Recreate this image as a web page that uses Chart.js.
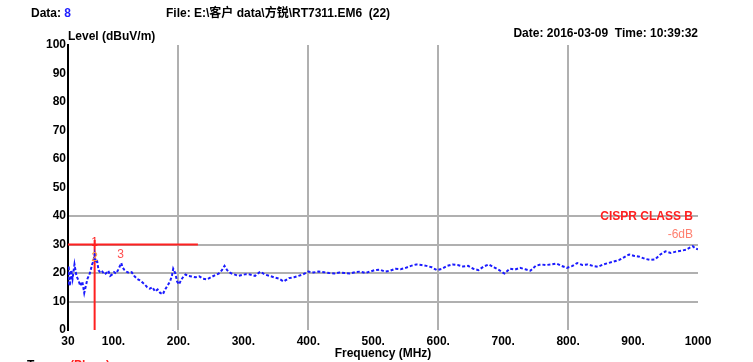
<!DOCTYPE html>
<html>
<head>
<meta charset="utf-8">
<script src="https://cdn.jsdelivr.net/npm/chart.js@4.4.1/dist/chart.umd.min.js"></script>
<style>
    body { margin: 0; background: #fff; }
    #emc { display: block; }
</style>
</head>
<body>
<canvas id="emc" width="753" height="362"></canvas>
<script>
const traceFreq = [30, 31, 32, 33, 35, 37, 40, 43, 46, 49, 52, 55, 58, 60, 63, 65, 67, 69, 71, 73,
    75, 77, 80, 83, 86, 89, 92, 95, 98, 101, 104, 107, 110, 112, 114, 117, 120, 124, 128, 132,
    136, 140, 144, 148, 152, 156, 160, 164, 168, 172, 176, 179, 183, 187, 190, 192, 195, 198, 201, 204,
    207, 211, 215, 220, 226, 232, 238, 244, 250, 256, 262, 267, 271, 275, 280, 286, 292, 298, 304, 310,
    318, 326, 333, 340, 347, 355, 362, 370, 378, 385, 392, 400, 408, 416, 424, 432, 440, 448, 456, 464,
    472, 480, 488, 495, 502, 510, 518, 526, 534, 542, 550, 558, 566, 574, 582, 590, 598, 606, 614, 622,
    630, 638, 646, 654, 662, 670, 678, 686, 694, 702, 710, 718, 726, 734, 742, 750, 758, 766, 774, 782,
    790, 798, 806, 814, 822, 830, 838, 846, 854, 862, 870, 878, 886, 894, 902, 910, 918, 926, 934, 942,
    950, 958, 966, 974, 982, 988, 992, 996, 1000];
const traceLevel = [16, 22.5, 17, 15.5, 21, 18, 23, 19, 17.5, 15.5, 17, 13, 16, 18, 19.5, 21, 23, 24, 26.5, 23.5,
    24, 21, 20, 20.5, 19.5, 20, 20.8, 19, 19.5, 20.3, 19.8, 21, 22.5, 23.5, 22, 21, 20.5, 20, 20.3, 19,
    18, 17.5, 16.8, 16, 15, 14.5, 15, 13.5, 14.2, 13, 12.5, 14, 15.5, 17, 19, 21.5, 20, 17, 16, 17.5,
    18.5, 19.5, 19, 18.8, 18.5, 18.8, 18, 17.8, 18.5, 19.2, 19.8, 21, 22.5, 21, 20, 19.5, 19, 19.3, 19.6, 19.5,
    19, 20.5, 19.5, 19, 18.5, 18, 17, 18.2, 18.5, 19, 19.5, 20.5, 20.2, 20.5, 20.3, 20, 19.8, 20.2, 20, 19.8,
    20.3, 20.5, 20, 20.5, 21, 21.2, 20.5, 20.8, 21.5, 21.3, 21.8, 22.5, 23, 22.8, 22.5, 22, 21, 21.5, 22.5, 23,
    22.8, 22.3, 22.5, 21.5, 21, 22.3, 23, 22, 21, 19.8, 21.5, 21.2, 21.8, 21.3, 20.8, 22.5, 23, 22.8, 23, 23.3,
    22.5, 21.8, 22.4, 23.5, 22.8, 23, 22.5, 22.2, 23, 23.5, 24, 24.5, 25.5, 26.5, 26, 25.7, 25, 24.6, 24.8, 26.5,
    27.6, 27, 27.5, 27.8, 28.2, 29, 29.4, 28.6, 28.3];

// CISPR class B limit (-6dB), drawn 30..230 MHz
const limitFreq = [30, 230];
const limitLevel = [30, 30];

// markers 1..3 (label positions), marker line top
const markerFreq = [71, 71, 111];
const markerLevel = [30.6, 25.4, 26.6];
const markerNames = ['1', '2', '3'];
const markerColors = ['#ff2020', '#ff9a40', '#ff5050'];
const markerLineTop = 31.6;

const xTickValues = [30, 100, 200, 300, 400, 500, 600, 700, 800, 900, 1000];
const xGridValues = [200, 400, 600, 800];
const yGridValues = [10, 20, 30, 40];

const FONT = '"Liberation Sans", Arial, "Noto Sans CJK SC", sans-serif';

const textPlugin = {
    id: 'emcText',
    afterDraw(chart) {
        const ctx = chart.ctx;
        const xs = chart.scales.x, ys = chart.scales.y;
        ctx.save();
        ctx.textBaseline = 'middle';
        ctx.font = 'bold 12px ' + FONT;

        ctx.textAlign = 'left';
        ctx.fillStyle = '#000';
        ctx.fillText('Data: ', 31, 14);
        let w = ctx.measureText('Data: ').width;
        ctx.fillStyle = '#2020ff';
        ctx.fillText('8', 31 + w, 14);

        ctx.fillStyle = '#000';
        ctx.fillText('File: E:\\客户 data\\方锐\\RT7311.EM6  (22)', 166, 14);
        ctx.fillText('Level (dBuV/m)', 68, 37);

        ctx.textAlign = 'right';
        ctx.fillText('Date: 2016-03-09  Time: 10:39:32', 698, 34);

        ctx.fillStyle = '#ff2020';
        ctx.fillText('CISPR CLASS B', 693, 217);
        ctx.fillStyle = '#ff7f6f';
        ctx.font = '12px ' + FONT;
        ctx.fillText('-6dB', 693, 235);

        // marker labels
        ctx.textAlign = 'center';
        ctx.font = '12px ' + FONT;
        markerNames.forEach((m, i) => {
            ctx.fillStyle = markerColors[i];
            ctx.fillText(m, xs.getPixelForValue(markerFreq[i]), ys.getPixelForValue(markerLevel[i]));
        });

        // footer, mostly cut off by the window
        ctx.textAlign = 'left';
        ctx.textBaseline = 'top';
        ctx.font = 'bold 12px ' + FONT;
        ctx.fillStyle = '#000';
        ctx.fillText('Trace:', 27, 360);
        ctx.fillStyle = '#ff2020';
        ctx.fillText('(Plane)', 70, 360);
        ctx.restore();
    }
};

new Chart(document.getElementById('emc'), {
    type: 'line',
    data: {
        datasets: [{
            label: 'trace',
            data: traceFreq.map((f, i) => ({ x: f, y: traceLevel[i] })),
            borderColor: '#1a1aff',
            borderWidth: 2,
            borderDash: [3, 2],
            pointRadius: 0,
            tension: 0
        }, {
            label: 'limit',
            data: limitFreq.map((f, i) => ({ x: f, y: limitLevel[i] })),
            borderColor: '#ff2020',
            borderWidth: 2,
            pointRadius: 0
        }, {
            label: 'marker',
            data: [{ x: markerFreq[0], y: 0 }, { x: markerFreq[0], y: markerLineTop }],
            borderColor: '#ff2020',
            borderWidth: 2,
            pointRadius: 0
        }]
    },
    plugins: [textPlugin],
    options: {
        responsive: false,
        animation: false,
        layout: { padding: { left: 0, right: 55, top: 45, bottom: 0 } },
        plugins: {
            legend: { display: false },
            tooltip: { enabled: false }
        },
        scales: {
            x: {
                type: 'linear',
                min: 30,
                max: 1000,
                afterBuildTicks: (scale) => {
                    scale.ticks = xTickValues.map(v => ({ value: v }));
                },
                afterFit: (scale) => { scale.height = 32; },
                ticks: {
                    autoSkip: false,
                    maxRotation: 0,
                    padding: 4,
                    color: '#000',
                    font: { family: FONT, size: 12, weight: 'bold' },
                    callback: (v) => (v === 30 || v === 1000) ? String(v) : v + '.'
                },
                grid: {
                    drawTicks: false,
                    lineWidth: 2,
                    color: (c) => xGridValues.includes(c.tick && c.tick.value) ? '#b0b0b0' : 'rgba(0,0,0,0)'
                },
                border: { display: false },
                title: {
                    display: true,
                    text: 'Frequency (MHz)',
                    color: '#000',
                    font: { family: FONT, size: 12, weight: 'bold' },
                    padding: { top: 0, bottom: 1 }
                }
            },
            y: {
                min: 0,
                max: 100,
                afterFit: (scale) => { scale.width = 68; },
                ticks: {
                    stepSize: 10,
                    padding: 2,
                    color: '#000',
                    font: { family: FONT, size: 12, weight: 'bold' }
                },
                grid: {
                    drawTicks: false,
                    lineWidth: 2,
                    color: (c) => yGridValues.includes(c.tick && c.tick.value) ? '#b0b0b0' : 'rgba(0,0,0,0)'
                },
                border: { display: true, color: '#000', width: 2 }
            }
        }
    }
});
</script>
</body>
</html>
